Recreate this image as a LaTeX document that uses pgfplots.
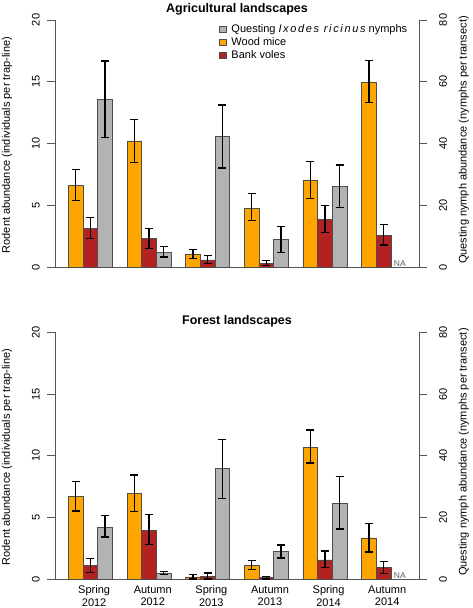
\documentclass[border=0pt]{standalone}
\usepackage{fontspec}
\setmainfont{Liberation Sans}
\usepackage{pgfplots}
\usepackage{pgfplotstable}
\pgfplotsset{compat=1.18}
\definecolor{wm}{HTML}{FFA500}
\definecolor{bv}{HTML}{B22222}
\definecolor{ny}{HTML}{B3B3B3}
\definecolor{axc}{HTML}{555555}
\definecolor{bord}{HTML}{4D4D4D}

% Agricultural landscapes
\pgfplotstableread{
x y ep em
1.5 6.65 1.29 1.21
5.5 10.23 1.75 1.75
9.5 1.06 0.41 0.35
13.5 4.80 1.18 1.02
17.5 7.08 1.51 1.48
21.5 14.98 1.73 1.66
}\agwm
\pgfplotstableread{
x y ep em
2.5 3.18 0.84 0.83
6.5 2.33 0.83 0.81
10.5 0.62 0.36 0.28
14.5 0.34 0.21 0.19
18.5 3.91 1.08 1.07
22.5 2.62 0.83 0.81
}\agbv
\pgfplotstableread{
x y ep em
3.5 54.4 12.3 12.4
7.5 5.0 1.8 1.6
11.5 42.4 10.1 10.2
15.5 9.1 4.2 4.3
19.5 26.2 6.9 6.9
}\agny
% Forest landscapes
\pgfplotstableread{
x y ep em
1.5 6.72 1.18 1.19
5.5 6.96 1.49 1.49
9.5 0.19 0.21 0.17
13.5 1.13 0.38 0.32
17.5 10.71 1.38 1.29
21.5 3.36 1.16 1.16
}\fowm
\pgfplotstableread{
x y ep em
2.5 1.10 0.57 0.53
6.5 3.99 1.24 1.19
10.5 0.21 0.30 0.19
14.5 0.13 0.11 0.11
18.5 1.57 0.72 0.63
22.5 0.94 0.49 0.45
}\fobv
\pgfplotstableread{
x y ep em
3.5 16.9 3.7 3.2
7.5 1.9 0.6 0.4
11.5 35.8 9.5 9.6
15.5 9.1 2.0 2.2
19.5 24.7 8.5 8.4
}\fony

\tikzset{
  natext/.style={anchor=base west, inner sep=0pt, font=\fontsize{8.5}{9}\selectfont, text=black!65},
  ttl/.style={anchor=base, inner sep=0pt, font=\fontsize{12.5}{14}\selectfont\bfseries},
}
\pgfplotsset{
  baseax/.style={scale only axis, width=364pt, xmin=0.08, xmax=24.92, ymin=0,
    tick align=outside, major tick length=7.5pt,
    /pgf/number format/assume math mode=true,
    axis line style={-, draw=axc, line width=0.8pt},
    every tick/.style={draw=axc, line width=0.8pt},
    font=\fontsize{11}{13}\selectfont,
    clip=false,
    error bars/error bar style={line width=1.3pt, black},
    error bars/error mark options={rotate=90, mark size=4pt, line width=1.3pt, black},
  },
  barsty/.style={ybar, bar width=1, bar shift=0pt, draw=bord, line width=0.6pt, fill=#1,
    error bars/y dir=both, error bars/y explicit},
  rodax/.style={baseax, ymax=20, ytick={0,5,10,15,20},
    axis y line*=left, axis x line*=bottom,
    yticklabel style={xshift=-7.5pt, rotate=90, anchor=south, inner sep=0pt},
    ylabel={Rodent abundance (individuals per trap-line)},
    ylabel style={at={(axis description cs:-0.117,0.495)}, anchor=south, inner sep=0pt}},
  nymax/.style={baseax, ymax=80, ytick={0,20,40,60,80},
    axis y line*=right, axis x line=none,
    yticklabel style={xshift=12.5pt, rotate=90, anchor=north, inner sep=0pt},
    ylabel={Questing nymph abundance (nymphs per transect)},
    ylabel style={at={(axis description cs:1.1085,0.515)}, anchor=north, inner sep=0pt}},
}

\begin{document}
\begin{tikzpicture}[x=1pt,y=1pt]
\useasboundingbox (0,0) rectangle (472,608);

% ---------- Top panel ----------
\begin{axis}[rodax, at={(55pt,340.5pt)}, anchor=south west, height=247.5pt, xtick=\empty]
\addplot[barsty=wm] table[x=x, y=y, y error plus=ep, y error minus=em]{\agwm};
\addplot[barsty=bv] table[x=x, y=y, y error plus=ep, y error minus=em]{\agbv};
\node[natext] at (axis cs:23.2,0.1) {NA};
\node[ttl] at (axis description cs:0.5,1.0295) {Agricultural landscapes};
\end{axis}
\begin{axis}[nymax, at={(55pt,340.5pt)}, anchor=south west, height=247.5pt, xtick=\empty,
  legend style={draw=none, fill=none, at={(axis description cs:0.451,0.99)}, anchor=north west,
    inner sep=0pt, row sep=0.5pt, column sep=3pt, font=\fontsize{11}{13}\selectfont, cells={anchor=west},
    nodes={inner sep=1.5pt}},
  legend image code/.code={\draw[#1] (0pt,-3pt) rectangle (7pt,3pt);}]
\addplot[forget plot, barsty=ny] table[x=x, y=y, y error plus=ep, y error minus=em]{\agny};
\addlegendimage{fill=ny, draw=bord, line width=0.6pt}
\addlegendentry{Questing {\itshape\addfontfeature{LetterSpace=15}Ixodes ricinus} nymphs}
\addlegendimage{fill=wm, draw=bord, line width=0.6pt}
\addlegendentry{Wood mice}
\addlegendimage{fill=bv, draw=bord, line width=0.6pt}
\addlegendentry{Bank voles}
\end{axis}

% ---------- Bottom panel ----------
\begin{axis}[rodax, at={(55pt,28.7pt)}, anchor=south west, height=247pt,
  xtick={2.75,6.75,10.75,14.75,18.75,22.75},
  xticklabels={{Spring\\2012},{Autumn\\2012},{Spring\\2013},{Autumn\\2013},{Spring\\2014},{Autumn\\2014}},
  xticklabel style={yshift=1.2pt, align=center, anchor=north, inner sep=0pt, font=\fontsize{11}{12.5}\selectfont},
  x tick style={draw=none}]
\addplot[barsty=wm] table[x=x, y=y, y error plus=ep, y error minus=em]{\fowm};
\addplot[barsty=bv] table[x=x, y=y, y error plus=ep, y error minus=em]{\fobv};
\node[natext] at (axis cs:23.2,0.1) {NA};
\node[ttl] at (axis description cs:0.5,1.0296) {Forest landscapes};
\end{axis}
\begin{axis}[nymax, at={(55pt,28.7pt)}, anchor=south west, height=247pt, xtick=\empty]
\addplot[barsty=ny] table[x=x, y=y, y error plus=ep, y error minus=em]{\fony};
\end{axis}
\end{tikzpicture}
\end{document}
